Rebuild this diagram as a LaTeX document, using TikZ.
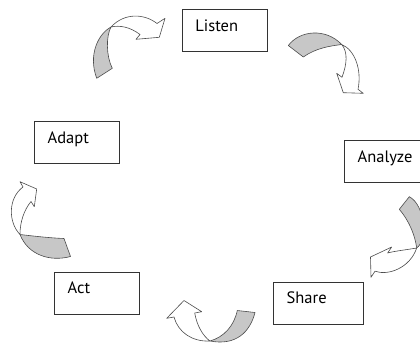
\documentclass[tikz,border=0pt]{standalone}
\usepackage{fontspec}
\setmainfont{PT Sans}
\newcommand{\stagefont}{\fontsize{16.5}{18}\selectfont}
\tikzset{
    stagebox/.style={draw=black!80, line width=0.8pt, anchor=north west,
        inner sep=0pt, inner xsep=13pt, text width=59pt, align=left,
        text height=21.7pt, text depth=20.3pt, font=\stagefont},
    backside/.style={fill=black!22, draw=black!70, line width=0.6pt, line join=round},
    frontside/.style={fill=white, draw=black!70, line width=0.6pt, line join=round}
}

\begin{document}
\begin{tikzpicture}[x=1pt, y=-1pt]

\useasboundingbox (0,0) rectangle (420,343);
\clip (0,0) rectangle (420,343);

% stage boxes
\node[stagebox] (listen) at (182,9) {Listen};
\node[stagebox] (analyze) at (344.3,140) {Analyze};
\node[stagebox, text width=64pt] (share) at (273.3,281.7) {Share};
\node[stagebox] (act) at (54.3,271.7) {Act};
\node[stagebox] (adapt) at (34.3,121) {Adapt};

% crossover points of the ribbons
\coordinate (xa) at (111,27);
\coordinate (xb) at (341.7,44.5);
\coordinate (xc) at (416.7,248);
\coordinate (xd) at (210,341);
\coordinate (xe) at (20,234.5);

% adapt -> listen
\draw[backside] (96.7,78.3) -- (112.3,68.3) .. controls (106,56) and (106,36) .. (xa)
    .. controls (98,34) and (88,55) .. (96.7,78.3) -- cycle;
\draw[frontside] (xa) .. controls (125,12) and (145,14) .. (157,23.5) -- (165,18.3)
    -- (159.3,37.3) -- (136,39.3) -- (140,34.5) .. controls (130,27) and (120,25) .. (xa) -- cycle;

% listen -> analyze
\draw[backside] (288.3,45.5) .. controls (300,30) and (326,28) .. (xb)
    .. controls (330,46) and (316,48) .. (303.3,57) -- cycle;
\draw[frontside] (xb) .. controls (355,50) and (362,70) .. (358,89.3) -- (363.3,93.3)
    -- (343.3,92.7) -- (336.7,73.3) -- (342,77.3) .. controls (347,64) and (348,52) .. (xb) -- cycle;

% analyze -> share
\draw[backside] (409.3,196.7) .. controls (425,205) and (428,240) .. (xc)
    .. controls (415,236) and (410,222) .. (399.3,209.3) -- cycle;
\draw[frontside] (xc) .. controls (405,250) and (395,251) .. (387.6,253) -- (391.7,247)
    -- (370.5,257) -- (371,277.3) -- (375,271.2) .. controls (388,276) and (410,268) .. (xc) -- cycle;

% share -> act
\draw[backside] (237.3,310.5) -- (255,312.5) .. controls (250,332) and (236,346) .. (xd)
    .. controls (224,337) and (234,326) .. (237.3,310.5) -- cycle;
\draw[frontside] (xd) .. controls (192,342) and (178,332) .. (174,317) -- (166.7,318.3)
    -- (184,300.5) -- (201.7,311.7) -- (194.7,313) .. controls (197,326) and (203,336) .. (xd) -- cycle;

% act -> adapt
\draw[backside] (64,238.5) -- (70.5,256.5) .. controls (50,262) and (28,255) .. (xe)
    .. controls (33,236) and (50,238) .. (64,238.5) -- cycle;
\draw[frontside] (xe) .. controls (8,222) and (8,198) .. (23,187) -- (20,181.7)
    -- (36.7,189) -- (34.3,206.7) -- (31,201.5) .. controls (24,210) and (20,222) .. (xe) -- cycle;

\end{tikzpicture}
\end{document}
